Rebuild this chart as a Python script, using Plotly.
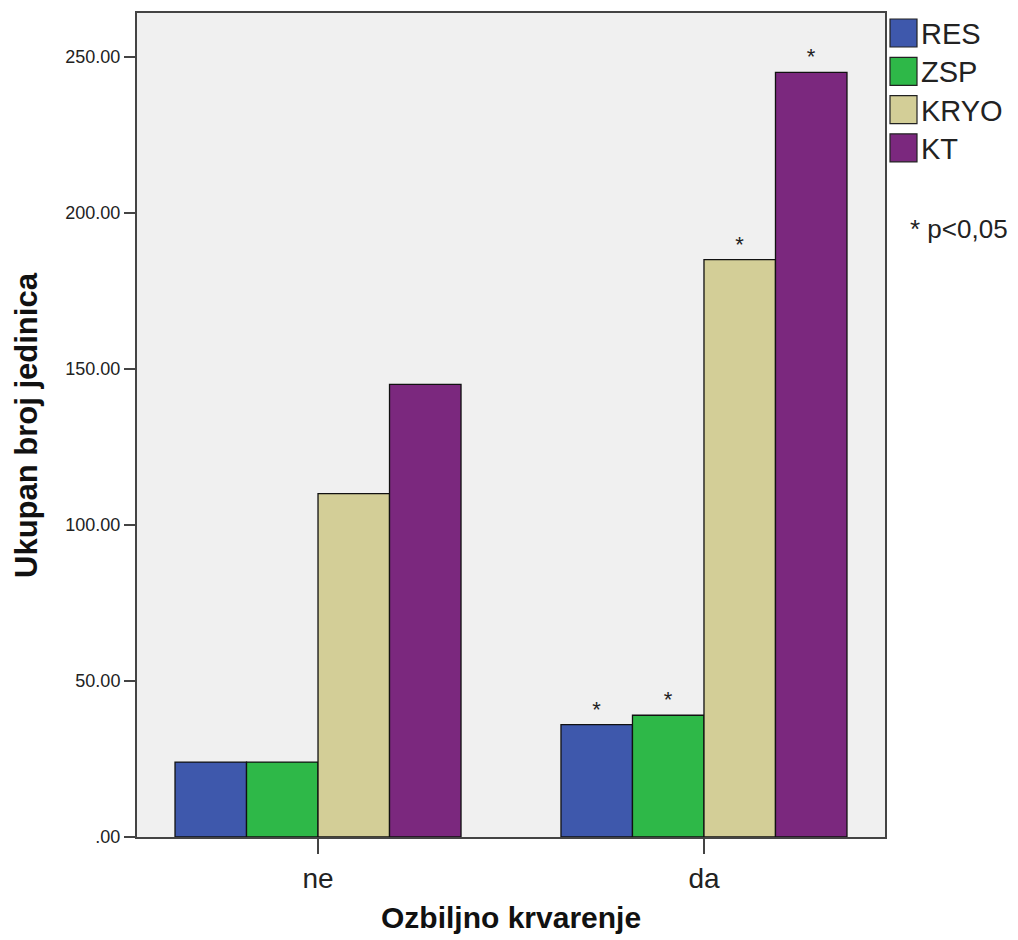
import plotly.graph_objects as go

# Severe bleeding group (x categories)
categories = ["ne", "da"]

# Total units transfused per product
series_names = ["RES", "ZSP", "KRYO", "KT"]
res_values = [24, 36]
zsp_values = [24, 39]
kryo_values = [110, 185]
kt_values = [145, 245]

# Significance markers (p<0.05) per category
res_sig = ["", "*"]
zsp_sig = ["", "*"]
kryo_sig = ["", "*"]
kt_sig = ["", "*"]

y_tick_values = [0, 50, 100, 150, 200, 250]
y_tick_labels = [".00", "50.00", "100.00", "150.00", "200.00", "250.00"]

colors = ["#3E58AC", "#2EB848", "#D3CE97", "#7B287E"]
all_values = [res_values, zsp_values, kryo_values, kt_values]
all_sig = [res_sig, zsp_sig, kryo_sig, kt_sig]

W, H = 1018, 940
L, R, T, B = 137, 133, 13, 103
PW, PH = W - L - R, H - T - B
FONT = "Liberation Sans, Arial, sans-serif"


def px_x(x):
    return (x - L) / PW


def px_y(y):
    return (H - B - y) / PH


fig = go.Figure()
for name, vals, sig, col in zip(series_names, all_values, all_sig, colors):
    fig.add_trace(go.Bar(
        x=categories, y=vals, name=name,
        marker=dict(color=col, line=dict(color="#111111", width=1.3)),
        text=sig, textposition="outside", cliponaxis=False,
        textfont=dict(family=FONT, size=22, color="#222222"),
        showlegend=False,
    ))

shapes = []
annotations = []
# Legend drawn as boxes + labels beside the plot
for i, (name, col) in enumerate(zip(series_names, colors)):
    yc = 33 + i * 38.3
    shapes.append(dict(
        type="rect", xref="paper", yref="paper",
        x0=px_x(890), x1=px_x(917), y0=px_y(yc + 14), y1=px_y(yc - 14),
        fillcolor=col, line=dict(color="#222222", width=1.2),
    ))
    annotations.append(dict(
        xref="paper", yref="paper", x=px_x(919), y=px_y(yc + 1),
        xanchor="left", yanchor="middle", text=name, showarrow=False,
        font=dict(family=FONT, size=29, color="#222222"),
    ))

annotations.append(dict(
    xref="paper", yref="paper", x=px_x(908), y=px_y(229),
    xanchor="left", yanchor="middle", text="* p<0,05", showarrow=False,
    font=dict(family=FONT, size=26, color="#222222"),
))
annotations.append(dict(
    xref="paper", yref="paper", x=0.5, y=px_y(918),
    xanchor="center", yanchor="middle", text="<b>Ozbiljno krvarenje</b>",
    showarrow=False, font=dict(family=FONT, size=30, color="#111111"),
))
annotations.append(dict(
    xref="paper", yref="paper", x=px_x(26), y=0.5,
    xanchor="center", yanchor="middle", text="<b>Ukupan broj jedinica</b>",
    textangle=-90, showarrow=False,
    font=dict(family=FONT, size=31, color="#111111"),
))

fig.update_layout(
    width=W, height=H,
    margin=dict(l=L, r=R, t=T, b=B, autoexpand=False),
    paper_bgcolor="white", plot_bgcolor="#F0F0F0",
    barmode="group", bargap=0.259, bargroupgap=0,
    shapes=shapes, annotations=annotations,
    font=dict(family=FONT, color="#222222"),
)
fig.update_xaxes(
    range=[-0.469, 1.469], showgrid=False, zeroline=False,
    showline=True, linecolor="#444444", linewidth=2, mirror=True,
    ticks="outside", ticklen=15, tickwidth=2, tickcolor="#444444",
    tickfont=dict(family=FONT, size=28, color="#222222"),
)
fig.update_yaxes(
    range=[0, 264], showgrid=False, zeroline=False,
    showline=True, linecolor="#444444", linewidth=2, mirror=True,
    ticks="outside", ticklen=11, tickwidth=2, tickcolor="#444444",
    tickvals=y_tick_values, ticktext=y_tick_labels,
    tickfont=dict(family=FONT, size=18, color="#222222"),
)

fig.write_html("out.html")
